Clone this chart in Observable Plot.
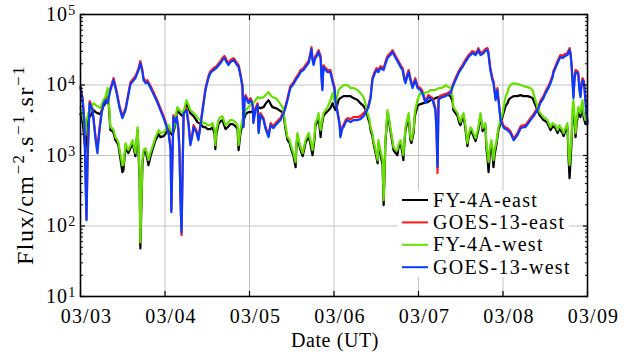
<!DOCTYPE html>
<html><head><meta charset="utf-8">
<script src="https://cdn.jsdelivr.net/npm/d3@7"></script>
<script src="https://cdn.jsdelivr.net/npm/@observablehq/plot@0.6"></script>
<style>
html,body{margin:0;padding:0;background:#fff;}
svg{display:block;}
</style></head><body><div id="chart"></div>
<script>
// ---- data (hours since 03/03 00:00 UT, flux in cm^-2 s^-1 sr^-1) ----
const goesHours = [0,0.6,1.1,1.7,2.0,2.6,3.4,4.3,4.8,5.4,
6.0,6.5,7.1,7.7,8.5,9.4,10.2,11.1,11.9,12.8,
13.6,14.2,15.1,15.6,16.5,17.0,17.6,17.9,18.5,19.0,
19.9,21.0,21.9,22.7,23.6,24.4,25.0,25.6,25.8,26.1,
26.4,27.0,27.3,27.8,28.1,28.4,28.7,29.0,29.3,30.1,
30.7,31.2,31.8,32.1,32.9,33.5,34.1,34.7,35.5,36.4,
36.9,37.8,38.6,39.8,40.3,40.9,41.5,42.0,42.6,43.5,
44.3,44.9,45.4,46.0,46.3,46.6,46.9,47.7,48.3,48.9,
49.1,49.7,50.3,50.6,51.1,52.0,52.5,53.4,54.0,54.8,
55.4,56.2,56.8,57.7,58.2,58.8,59.6,60.5,61.1,61.9,
62.5,63.3,63.9,64.8,65.3,65.6,65.9,66.2,66.7,67.0,
67.6,68.2,68.4,68.7,69.0,69.6,70.2,71.0,71.6,72.1,
72.4,73.0,73.6,73.8,74.4,74.7,75.3,75.8,76.7,77.5,
78.7,79.5,80.4,80.9,81.8,82.4,82.9,83.5,84.1,84.6,
85.2,86.1,86.6,87.2,88.0,88.6,89.2,89.5,90.3,90.9,
91.5,92.0,92.3,92.9,93.2,93.7,94.3,94.9,95.1,95.7,
96.6,97.1,98.0,98.8,100.0,100.8,101.1,101.4,101.7,102.2,
102.8,103.7,104.2,105.1,105.7,106.5,107.4,107.9,108.5,109.3,
110.2,110.8,111.3,112.2,112.8,113.0,113.6,114.2,114.5,115.0,
115.6,115.9,116.4,117.0,117.3,117.9,118.4,119.0,119.3,120.1,
120.7,121.3,122.1,123.0,123.5,124.1,125.0,125.8,126.4,127.2,
127.8,128.7,129.2,130.1,130.6,131.5,132.1,132.9,133.5,134.1,
134.3,134.9,135.5,136.3,136.9,137.7,138.3,138.9,139.2,139.5,
139.7,140.0,140.3,140.6,141.2,141.4,141.7,142.0,142.3,142.6,
142.9,143.1,143.4,143.7,144.0];
const goesWest = [9040,6110,2880,121,857,5530,4400,1650,1080,2290,
3990,5360,6110,5530,8470,11700,7930,4700,3390,4400,
7190,10300,11700,12500,16300,20500,15200,11700,10600,11000,
9040,6950,5530,4400,3390,2610,2080,1190,157,857,
3500,2970,3500,2290,1190,232,81,618,3990,4400,
2690,1400,1940,2520,2140,1650,2690,4400,8470,12900,
14800,16300,17400,20500,22600,24100,21100,19200,21100,22600,
19800,18000,13800,9330,2520,6110,6730,5530,6110,5190,
2880,4400,5190,2080,3740,3180,2440,1820,2690,2440,
2690,2970,3180,3990,4700,6110,9040,10300,11700,13400,
15200,16300,18000,20500,26600,32400,22600,19200,24100,24900,
29300,24100,13800,8470,18000,16300,15200,15200,11000,9040,
6110,3990,2690,1820,2440,2520,2970,3180,2970,3180,
3180,3280,3620,3990,4850,6520,11700,14300,16300,15200,
17400,16300,19800,24100,26600,29300,25800,24100,20500,18000,
16300,11700,10600,13800,15200,11700,9040,11000,11700,9040,
8470,7670,5530,6730,6110,4400,2290,682,6110,6520,
6730,6950,7190,7670,9330,11700,14800,16300,18000,21100,
24900,26600,28400,26600,29300,31300,26600,27500,28400,30300,
31300,26600,16300,11700,10600,6110,8470,4400,3180,2520,
2370,2290,2080,1650,1760,1940,2440,2520,2520,2880,
3180,3620,3990,4700,5530,6520,7670,9040,10600,12900,
14800,17400,20500,24900,24100,25800,26600,31300,26600,18000,
12500,6520,11700,15200,14800,13800,8470,6730,9980,11700,
11000,9330,6110,3740,2880];
const goesEast = [9650,6520,3070,125,916,5900,4700,1820,1270,2440,
4260,5720,6520,5900,9040,12500,8470,5010,3620,4700,
7670,11000,12500,13400,17400,21900,16300,12500,11400,11700,
9650,7430,5900,4700,3620,2790,2210,1270,167,916,
3740,3180,3740,2440,1270,247,74,661,4260,4700,
2880,1500,2080,2690,2290,1760,2880,4700,9040,13800,
15700,17400,18500,21900,24100,25800,22600,20500,22600,24100,
21100,19200,14800,9980,2690,6520,7190,5900,6520,5530,
3070,4700,5530,2210,3990,3390,2610,1940,2880,2610,
2880,3180,3390,4260,5010,6520,9650,11000,12500,14300,
16300,17400,19200,21900,28400,34500,24100,20500,25800,26600,
31300,25800,14800,9040,19200,17400,16300,16300,11700,9650,
6520,4260,2880,1940,2610,2690,3180,3390,3280,3500,
3500,3620,3990,4260,5190,6950,12500,15200,17400,16300,
18500,17400,21100,25800,28400,31300,27500,25800,21900,19200,
17400,12500,11400,14800,16300,12500,9650,11700,12500,9650,
9040,8190,5900,7190,6520,4700,2440,561,6520,6950,
7190,7430,7670,8190,9980,12500,15700,17400,19200,22600,
26600,28400,30300,28400,31300,33400,28400,29300,30300,32400,
33400,28400,17400,12500,11400,6520,9040,4700,3390,2690,
2520,2440,2210,1760,1880,2080,2610,2690,2690,3070,
3390,3860,4260,5010,5900,6950,8190,9650,11400,13800,
15700,18500,21900,26600,25800,27500,28400,33400,28400,19200,
13400,6950,12500,16300,15700,14800,9040,7190,10600,12500,
11700,9980,6520,3990,3070];
const fyHours = [0,0.6,1.1,1.4,1.7,2.3,2.8,3.7,4.3,4.8,
5.7,6.5,7.1,7.7,8.0,8.5,9.1,9.4,9.9,10.5,
10.8,11.4,11.9,12.2,12.8,13.3,13.6,14.2,14.8,15.3,
15.6,16.2,16.5,16.8,17.0,17.3,17.6,17.9,18.5,19.0,
19.3,19.9,20.4,21.3,22.2,22.7,23.6,24.1,25.0,25.6,
26.1,26.7,27.0,27.5,28.1,29.0,29.5,30.1,30.7,31.2,
32.1,32.7,33.2,34.1,34.9,35.5,36.1,36.9,37.5,38.1,
38.3,38.6,39.2,39.8,40.3,41.2,41.8,42.6,43.2,44.0,
44.6,44.9,45.4,46.0,46.9,47.7,48.3,49.1,49.7,50.3,
51.1,52.0,52.5,53.4,54.0,54.5,55.4,56.0,56.8,57.4,
57.7,58.2,58.8,59.4,59.6,60.2,60.5,61.1,61.3,61.6,
62.2,62.5,63.1,63.6,63.9,64.5,64.8,65.3,65.9,66.5,
66.7,67.3,67.6,68.2,68.4,69.0,69.6,70.2,71.0,71.6,
71.9,72.4,73.0,73.3,73.8,74.7,75.8,76.7,77.5,78.7,
79.5,80.4,80.9,81.5,82.1,82.4,82.9,83.2,83.8,84.4,
84.6,85.2,85.8,86.1,86.3,86.6,87.2,87.5,88.0,88.6,
88.9,89.5,90.0,90.3,90.9,91.5,91.7,92.0,92.3,92.9,
93.2,93.7,94.0,94.6,94.9,95.1,95.7,96.0,96.6,97.4,
98.6,99.4,100.3,100.8,101.7,102.2,103.1,103.7,104.5,105.1,
105.7,105.9,106.5,107.1,107.6,107.9,108.5,108.8,109.3,109.9,
110.2,110.8,111.3,111.6,112.2,112.8,113.0,113.6,113.9,114.2,
114.7,115.0,115.3,115.6,115.9,116.2,116.4,116.7,117.0,117.3,
117.6,118.2,118.7,119.3,119.9,120.4,120.7,121.3,121.6,122.1,
123.0,124.1,125.0,125.8,127.0,127.8,128.4,129.2,129.8,130.4,
130.6,131.5,132.1,132.6,133.5,134.1,134.9,135.5,136.0,136.3,
136.9,137.2,137.7,138.3,138.6,138.9,139.2,139.5,139.7,140.0,
140.3,140.6,140.9,141.4,142.0,142.3,142.6,142.9,143.4,144.0];
const fyWest = [4700,3740,2690,1940,3180,4120,4400,5530,5190,5010,
4700,6110,6730,9040,6110,2520,2440,2290,1820,1650,
1500,1010,728,728,1500,1270,1190,1400,1650,1270,
1080,2520,1190,525,59,232,857,1190,1270,1010,
857,1110,1310,1820,2290,2080,2140,2290,2690,2290,
2140,2690,3500,4850,4400,3990,4700,6110,5190,4400,
3990,3740,3390,3180,2880,2880,2690,2690,2880,2290,
1400,2290,3180,3500,3620,2690,2880,3180,3180,2970,
2690,1400,2290,3180,4400,4850,5190,5530,6110,6730,
6520,6730,7190,7930,7190,6730,6520,6110,5360,4850,
4120,2690,1820,1650,1500,1190,1080,804,1400,2080,
1500,1310,1080,1400,1650,1940,2080,1650,1190,1940,
2880,3390,3990,2290,2690,3990,4400,4850,6110,7670,
6520,5530,7190,8470,9040,9980,9980,9040,9040,8470,
7670,6730,5530,3990,3180,2520,2080,1650,1190,857,
1650,1190,857,232,525,1650,4400,3740,2520,1650,
1310,1190,1190,1400,1650,1190,1010,1650,2520,3390,
3990,1820,1650,2290,3740,4400,6110,6730,7670,7670,
7930,8470,8470,8470,9040,9040,9330,9980,9330,9040,
6730,4850,4400,3990,3180,2970,3740,3990,2690,1500,
1940,2520,2290,2080,1760,2290,2520,3990,3180,2440,
2690,2880,1400,1080,804,1190,1400,1650,1270,857,
1190,1650,2520,3180,3990,5530,6730,7930,9040,9980,
10600,10300,9980,9650,9330,9040,8470,6110,4850,4120,
3990,3500,3390,3180,2520,2880,2690,2290,2690,2520,
2290,2080,2440,2880,1190,728,1190,1940,4400,6110,
3740,2080,3180,4850,3990,5190,6110,3990,3180,3180];
const fyEast = [3860,3070,1650,1110,2440,3390,3620,4400,4120,3990,
3860,5010,5530,7430,5530,2290,2210,2080,1650,1500,
1360,857,579,618,1360,1150,1080,1270,1500,1150,
977,2290,1040,446,48,197,752,1080,1150,885,
728,977,1190,1650,2010,1820,1880,2010,2440,2080,
1940,2440,3180,4400,3990,3620,4260,5530,4700,3990,
3620,3280,2970,2790,2520,2520,2370,2370,2520,2010,
1230,2010,2790,3070,3180,2370,2520,2790,2790,2610,
2370,1190,2010,2790,3860,4120,4120,4260,4550,4850,
4700,4850,5360,6110,5360,4850,4700,4550,4260,4120,
3740,2440,1650,1500,1360,1080,977,682,1270,1880,
1360,1190,977,1270,1500,1760,1880,1450,1010,1760,
2610,3070,3620,1820,2440,3620,3990,4260,4700,5530,
5010,4400,5360,6110,6520,6950,6950,6950,6520,6110,
5530,5010,4550,3620,2880,2290,1880,1500,1080,778,
1500,1040,728,197,446,1500,3990,3390,2290,1500,
1190,1080,1010,1270,1500,1040,857,1500,2290,3070,
3620,1650,1500,2080,3390,3860,5010,5190,5360,5530,
5720,6110,6310,6520,6730,6950,7190,7430,7190,6950,
5720,4400,3990,3620,2880,2690,3390,3620,2440,1360,
1760,2290,2080,1880,1600,2080,2290,3620,2880,2210,
2440,2610,1230,916,579,977,1230,1450,1080,682,
1010,1500,2290,2880,3620,4400,5010,5530,6110,6520,
6950,6950,7190,6950,6950,6730,6520,5190,4400,3740,
3620,3180,3070,2880,2290,2610,2440,2080,2440,2290,
2080,1880,2210,2520,977,476,857,1650,3390,4120,
3180,1820,2790,4120,3500,4400,5010,3500,2790,2790];

const seriesNames = ["FY-4A-east", "GOES-13-east", "FY-4A-west", "GOES-13-west"];
const seriesColors = ["#000000", "#ff1a1a", "#66e000", "#0a3cff"];
const dayLabels = ["03/03", "03/04", "03/05", "03/06", "03/07", "03/08", "03/09"];
const decadeTicks = [10, 100, 1000, 10000, 100000];
const minorMultipliers = [2, 3, 4, 5, 6, 7, 8, 9];
const xTitle = "Date (UT)";

// ---- build tables ----
const t0 = Date.UTC(2018, 2, 3);
const toDate = h => new Date(t0 + h * 3600e3);
const table = (hours, vals) => hours.map((h, i) => ({t: toDate(h), v: vals[i]}));
const seriesData = [table(fyHours, fyEast), table(goesHours, goesEast), table(fyHours, fyWest), table(goesHours, goesWest)];
const dayTicks = dayLabels.map((_, i) => new Date(t0 + i * 864e5));
const minorTicks = decadeTicks.slice(0, -1).flatMap(d => minorMultipliers.map(m => m * d));
const fmtDay = d => dayLabels[Math.round((d - t0) / 864e5)];

const FONT = "'Liberation Serif', serif";
const grid = {stroke: "#c4c4c4", strokeOpacity: 1, strokeWidth: 1};
const svg = Plot.plot({
  width: 630, height: 354,
  marginLeft: 80, marginRight: 43, marginTop: 14, marginBottom: 58,
  style: {fontFamily: FONT, fontSize: "20px", letterSpacing: "1.2px", background: "#fff", color: "#000"},
  x: {type: "utc", domain: [dayTicks[0], dayTicks[6]], axis: null},
  y: {type: "log", domain: [10, 100000], axis: null},
  marks: [
    Plot.gridX(dayTicks, grid),
    Plot.gridY(decadeTicks, grid),
    ...seriesData.map((d, i) => Plot.line(d, {x: "t", y: "v", stroke: seriesColors[i], strokeWidth: 2.2, strokeLinejoin: "round"})),
    Plot.axisX(dayTicks, {anchor: "bottom", tickSize: -5, fill: "none", label: null, strokeWidth: 1.2}),
    Plot.axisX(dayTicks, {anchor: "top", tickSize: -5, fill: "none", label: null, strokeWidth: 1.2}),
    Plot.axisY(decadeTicks, {anchor: "left", tickSize: -5, fill: "none", label: null, strokeWidth: 1.2}),
    Plot.axisY(decadeTicks, {anchor: "right", tickSize: -5, fill: "none", label: null, strokeWidth: 1.2}),
    Plot.axisY(minorTicks, {anchor: "left", tickSize: -3, fill: "none", label: null}),
    Plot.axisY(minorTicks, {anchor: "right", tickSize: -3, fill: "none", label: null}),
    Plot.axisX(dayTicks, {anchor: "bottom", tickSize: 0, tickPadding: 12, dx: 6, tickFormat: fmtDay, label: null}),
    Plot.axisY(decadeTicks, {anchor: "left", tickSize: 0, tickPadding: 4, tickFormat: d => "10^" + Math.round(Math.log10(d)), label: null}),
    Plot.frame({stroke: "#000", strokeWidth: 1.6})
  ]
});
document.getElementById("chart").append(svg);

const S = d3.select(svg);
// superscript exponents on y tick labels
S.selectAll('g[aria-label="y-axis tick label"] text').each(function () {
  const parts = this.textContent.split("^");
  const t = d3.select(this);
  t.text(parts[0]);
  t.append("tspan").attr("dy", "-0.45em").attr("font-size", "14px").text(parts[1]);
});

// axis titles
S.append("text").attr("x", 335).attr("y", 347).attr("text-anchor", "middle")
  .attr("font-family", FONT).attr("font-size", 20).attr("letter-spacing", "0.6px").text(xTitle);
const yl = S.append("text").attr("transform", "translate(33,165) rotate(-90)")
  .attr("text-anchor", "middle").attr("font-family", FONT).attr("font-size", 24).attr("letter-spacing", "1.5px");
[["Flux/cm", false], ["−2", true], [".s", false], ["−1", true], [".sr", false], ["−1", true]].forEach(([s, sup], i) => {
  const ts = yl.append("tspan").text(s);
  if (sup) ts.attr("dy", -9).attr("font-size", 17);
  else if (i > 0) ts.attr("dy", 9);
});

// legend
const lg = S.append("g").attr("font-family", FONT).attr("font-size", 20).attr("letter-spacing", "1.3px").attr("text-anchor", "start");
lg.append("rect").attr("x", 398).attr("y", 191).attr("width", 171).attr("height", 86).attr("fill", "#fff");
seriesNames.forEach((n, i) => {
  const y = 200 + i * 22.4;
  lg.append("line").attr("x1", 402).attr("x2", 428).attr("y1", y).attr("y2", y)
    .attr("stroke", seriesColors[i]).attr("stroke-width", 2);
  lg.append("text").attr("x", 433).attr("y", y + 6.5).attr("fill", "#000").attr("text-anchor", "start").text(n);
});
</script>
</body></html>
